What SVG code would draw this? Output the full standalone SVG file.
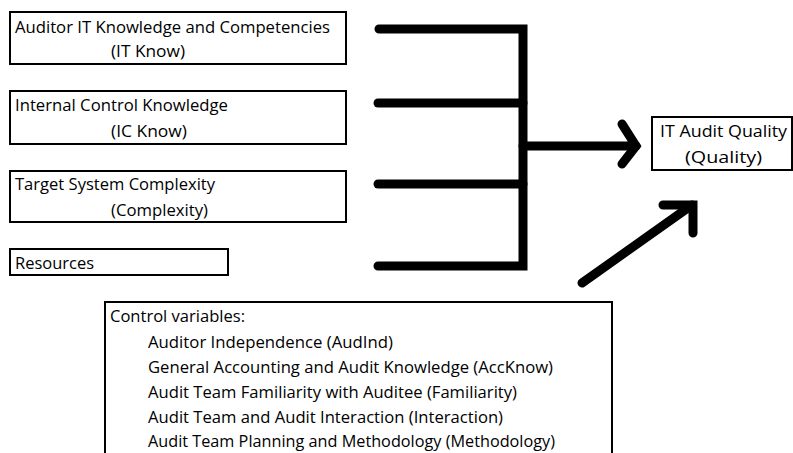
<svg xmlns="http://www.w3.org/2000/svg" width="793" height="453" viewBox="0 0 793 453">
<style>
.box{fill:#fff;stroke:#000;stroke-width:2}
.t{font-family:"Open Sans","Liberation Sans",sans-serif;font-size:15.5px;fill:#000}
.c{fill:none;stroke:#000;stroke-width:9;stroke-linecap:round;stroke-linejoin:miter}
</style>
<rect width="793" height="453" fill="#fff"/>
<g id="itknow">
<rect class="box" x="10" y="12" width="336" height="52"/>
<text class="t" x="15" y="33" textLength="315" lengthAdjust="spacingAndGlyphs">Auditor IT Knowledge and Competencies</text>
<text class="t" x="111" y="57" textLength="74" lengthAdjust="spacingAndGlyphs">(IT Know)</text>
</g>
<g id="icknow">
<rect class="box" x="10" y="91" width="336" height="53"/>
<text class="t" x="15" y="111" textLength="213" lengthAdjust="spacingAndGlyphs">Internal Control Knowledge</text>
<text class="t" x="111" y="137" textLength="76" lengthAdjust="spacingAndGlyphs">(IC Know)</text>
</g>
<g id="complexity">
<rect class="box" x="10" y="171" width="336" height="51"/>
<text class="t" x="15" y="190" textLength="200" lengthAdjust="spacingAndGlyphs">Target System Complexity</text>
<text class="t" x="111" y="216" textLength="97" lengthAdjust="spacingAndGlyphs">(Complexity)</text>
</g>
<g id="resources">
<rect class="box" x="10" y="249" width="218" height="26"/>
<text class="t" x="15" y="269" textLength="79" lengthAdjust="spacingAndGlyphs">Resources</text>
</g>
<g id="quality">
<rect class="box" x="652" y="117" width="140" height="53"/>
<text class="t" x="660" y="137" textLength="127" lengthAdjust="spacingAndGlyphs">IT Audit Quality</text>
<text class="t" x="685" y="163" textLength="77" lengthAdjust="spacingAndGlyphs">(Quality)</text>
</g>
<g id="controls">
<rect class="box" x="105" y="302" width="507" height="160"/>
<text class="t" x="110" y="322" textLength="135" lengthAdjust="spacingAndGlyphs">Control variables:</text>
<text class="t" x="148" y="348" textLength="245" lengthAdjust="spacingAndGlyphs">Auditor Independence (AudInd)</text>
<text class="t" x="148" y="373" textLength="405" lengthAdjust="spacingAndGlyphs">General Accounting and Audit Knowledge (AccKnow)</text>
<text class="t" x="148" y="398" textLength="369" lengthAdjust="spacingAndGlyphs">Audit Team Familiarity with Auditee (Familiarity)</text>
<text class="t" x="148" y="423" textLength="355" lengthAdjust="spacingAndGlyphs">Audit Team and Audit Interaction (Interaction)</text>
<text class="t" x="148" y="447" textLength="407" lengthAdjust="spacingAndGlyphs">Audit Team Planning and Methodology (Methodology)</text>
</g>
<g id="connectors">
<path class="c" d="M379 29 H523 V266 H378"/>
<path class="c" d="M378 103 H523"/>
<path class="c" d="M378 184 H523"/>
<path class="c" d="M523 146 H636"/>
<path class="c" d="M622 124 L636 146 L622 164"/>
<path class="c" d="M582 283 L692 205"/>
<path class="c" d="M663 205 H693 V233"/>
</g>
</svg>
